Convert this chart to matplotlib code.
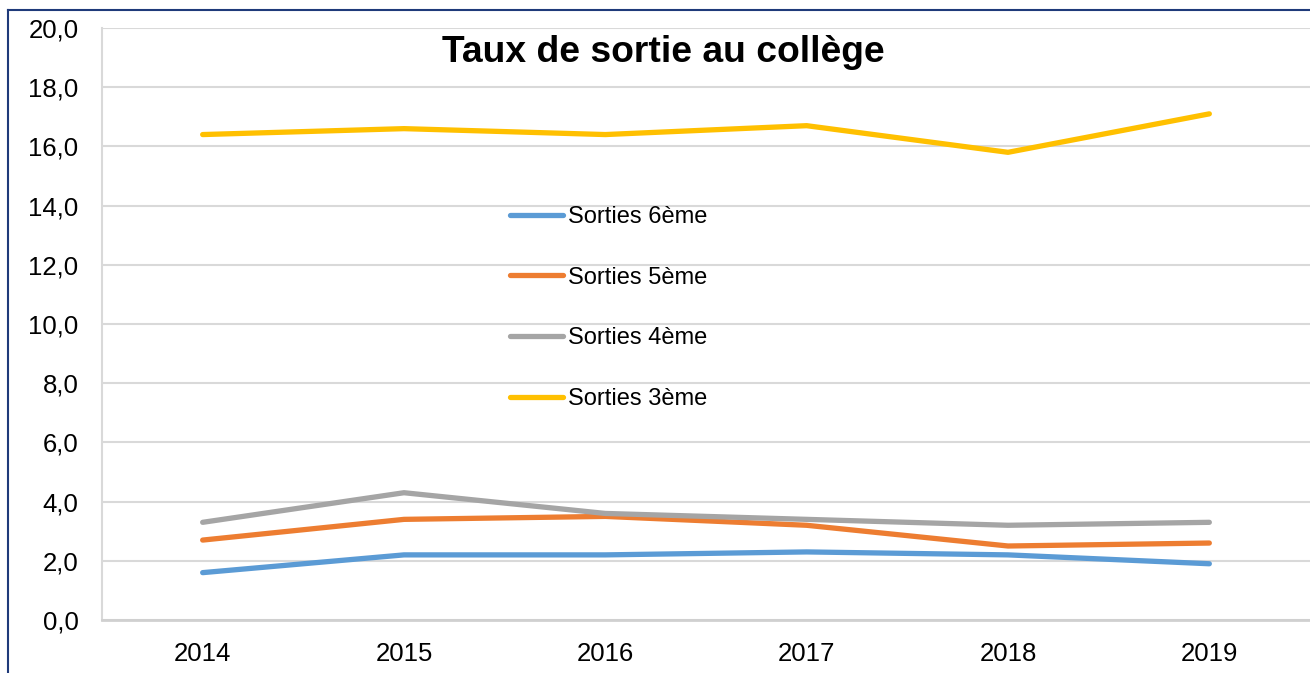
import matplotlib.pyplot as plt
from matplotlib.lines import Line2D

plt.rcParams['font.family'] = ['Liberation Sans', 'DejaVu Sans']

years = ['2014', '2015', '2016', '2017', '2018', '2019']
sorties_6 = [1.6, 2.2, 2.2, 2.3, 2.2, 1.9]
sorties_5 = [2.7, 3.4, 3.5, 3.2, 2.5, 2.6]
sorties_4 = [3.3, 4.3, 3.6, 3.4, 3.2, 3.3]
sorties_3 = [16.4, 16.6, 16.4, 16.7, 15.8, 17.1]

labels = ['Sorties 6ème', 'Sorties 5ème', 'Sorties 4ème', 'Sorties 3ème']
colors = ['#5B9BD5', '#ED7D31', '#A5A5A5', '#FFC000']

fig = plt.figure(figsize=(13.1, 6.73), dpi=100)
ax = fig.add_axes([102 / 1310, 1 - 620 / 673, 1 - 102 / 1310, (620 - 28) / 673])

x = range(len(years))
for serie, lab, col in zip([sorties_6, sorties_5, sorties_4, sorties_3], labels, colors):
    ax.plot(x, serie, color=col, lw=3.8, label=lab, solid_capstyle='round', solid_joinstyle='round')

ax.set_xlim(-0.5, len(years) - 0.5)
ax.set_ylim(0, 20)
ax.set_xticks(list(x))
ax.set_xticklabels(years)
ax.set_yticks([i * 2 for i in range(11)])
ax.set_yticklabels([f'{i * 2:.1f}'.replace('.', ',') for i in range(11)])
ax.tick_params(labelsize=18.5, length=0, colors='black')
ax.tick_params(axis='x', pad=16)
ax.tick_params(axis='y', pad=17)

ax.grid(axis='y', color='#D9D9D9', lw=1.5)
ax.set_axisbelow(True)
for s in ['top', 'right']:
    ax.spines[s].set_visible(False)
ax.spines['left'].set_color('#D9D9D9')
ax.spines['left'].set_linewidth(1.5)
ax.spines['bottom'].set_color('#D0D0D0')
ax.spines['bottom'].set_linewidth(2)

fig.text(663 / 1310, 1 - 52 / 673, 'Taux de sortie au collège', ha='center', va='center',
         fontsize=26.8, fontweight='bold')

ax.legend(loc='upper left', bbox_to_anchor=(510 / 1310, 1 - 206 / 673), bbox_transform=fig.transFigure,
          frameon=False, fontsize=17, labelspacing=1.64, handlelength=2.25, handletextpad=0.2,
          borderpad=0, borderaxespad=0)

# cadre bleu autour du graphique
fig.add_artist(Line2D([8 / 1310, 8 / 1310], [0, 1 - 10 / 673], transform=fig.transFigure,
                      color='#1F3A7A', lw=1.5))
fig.add_artist(Line2D([8 / 1310, 1], [1 - 10 / 673, 1 - 10 / 673], transform=fig.transFigure,
                      color='#1F3A7A', lw=1.5))

fig.savefig('out.png', dpi=100)
